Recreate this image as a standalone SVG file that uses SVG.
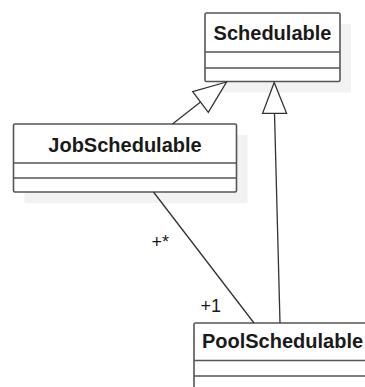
<svg xmlns="http://www.w3.org/2000/svg" width="365" height="387" viewBox="0 0 365 387">
  <style>
    .shadow { fill: #f2f2f2; stroke: none; }
    .box { fill: #ffffff; stroke: #555555; stroke-width: 1.6; }
    .sep { stroke: #555555; stroke-width: 1.6; fill: none; }
    .name { font-family: "Liberation Sans", Arial, sans-serif; font-weight: bold; font-size: 20px; fill: #1a1a1a; text-anchor: middle; }
    .edge { stroke: #333333; stroke-width: 1.3; fill: none; }
    .head { fill: #ffffff; stroke: #333333; stroke-width: 1.3; stroke-linejoin: miter; }
    .mult { font-family: "Liberation Sans", Arial, sans-serif; font-size: 18px; fill: #1a1a1a; }
  </style>
  <rect width="365" height="387" fill="#ffffff"/>

  <!-- class: Schedulable -->
  <g id="schedulable">
    <rect class="shadow" x="216" y="24" width="135" height="68.5"/>
    <rect class="box" x="205" y="13" width="135" height="68.5" rx="1.5"/>
    <line class="sep" x1="205" y1="52" x2="340" y2="52"/>
    <line class="sep" x1="205" y1="68" x2="340" y2="68"/>
    <text class="name" x="272.5" y="40">Schedulable</text>
  </g>

  <!-- class: JobSchedulable -->
  <g id="jobschedulable">
    <rect class="shadow" x="24.5" y="135" width="223" height="68"/>
    <rect class="box" x="13.5" y="124" width="223" height="68" rx="1.5"/>
    <line class="sep" x1="13.5" y1="163" x2="236.5" y2="163"/>
    <line class="sep" x1="13.5" y1="178" x2="236.5" y2="178"/>
    <text class="name" x="125" y="152">JobSchedulable</text>
  </g>

  <!-- class: PoolSchedulable -->
  <g id="poolschedulable">
    <rect class="box" x="194" y="323" width="177" height="80" rx="1.5"/>
    <line class="sep" x1="194" y1="360.5" x2="371" y2="360.5"/>
    <line class="sep" x1="194" y1="376" x2="371" y2="376"/>
    <text class="name" x="282.5" y="348">PoolSchedulable</text>
  </g>

  <!-- connectors -->
  <g id="connectors">
    <!-- JobSchedulable generalizes to Schedulable -->
    <line class="edge" x1="172.5" y1="124" x2="200.5" y2="102"/>
    <polygon class="head" points="226.5,82 192.7,91.7 208.3,112.3"/>
    <!-- PoolSchedulable generalizes to Schedulable -->
    <line class="edge" x1="280" y1="323" x2="274.5" y2="113"/>
    <polygon class="head" points="274.2,82.5 262.6,113.3 286.6,113.3"/>
    <!-- association JobSchedulable - PoolSchedulable -->
    <line class="edge" x1="153.5" y1="192" x2="254" y2="323"/>
    <text class="mult" x="151.5" y="248">+*</text>
    <text class="mult" x="200.5" y="312">+1</text>
  </g>
</svg>
